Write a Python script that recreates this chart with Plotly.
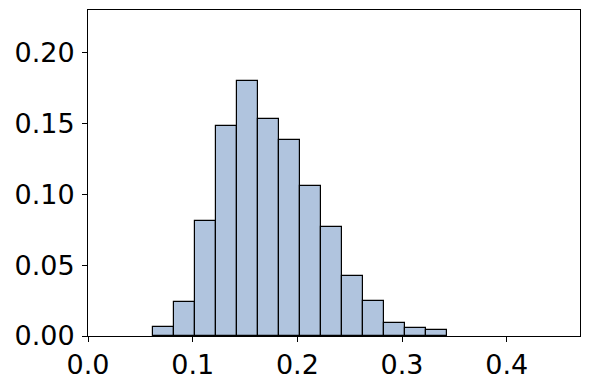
import plotly.graph_objects as go

# histogram bins (left edges) and normalised weights
bin_left = [0.0625, 0.0825, 0.1025, 0.1225, 0.1425, 0.1625, 0.1825,
            0.2025, 0.2225, 0.2425, 0.2625, 0.2825, 0.3025, 0.3225]
bin_width = 0.02
weights = [0.0066, 0.0238, 0.0812, 0.148, 0.180, 0.1532, 0.1382,
           0.1057, 0.0767, 0.0424, 0.0245, 0.0090, 0.0056, 0.0040]

fig = go.Figure(go.Bar(
    x=bin_left, y=weights, width=bin_width, offset=0,
    marker=dict(color="#b0c4de", line=dict(color="black", width=1.2)),
))

axis_common = dict(
    showline=True, linecolor="black", linewidth=1, mirror=True,
    ticks="outside", ticklen=5, tickcolor="black", tickwidth=1,
    showgrid=False, zeroline=False, automargin=False,
    tickfont=dict(family="DejaVu Sans", size=27, color="black"),
)

fig.update_layout(
    width=590, height=390,
    margin=dict(l=88, r=10, t=10, b=54),
    plot_bgcolor="white", paper_bgcolor="white",
    font=dict(family="DejaVu Sans", color="black"),
    showlegend=False, bargap=0,
    xaxis=dict(range=[0, 0.47], dtick=0.1, tick0=0, tickformat=".1f", **axis_common),
    yaxis=dict(range=[0, 0.23], dtick=0.05, tick0=0, tickformat=".2f",
               ticklabelstandoff=2, **axis_common),
)

# drop the browser's default body margin so the figure sits at the page origin
fig.write_html("out.html", config={"displayModeBar": False},
               post_script="document.body.style.margin='0';")
